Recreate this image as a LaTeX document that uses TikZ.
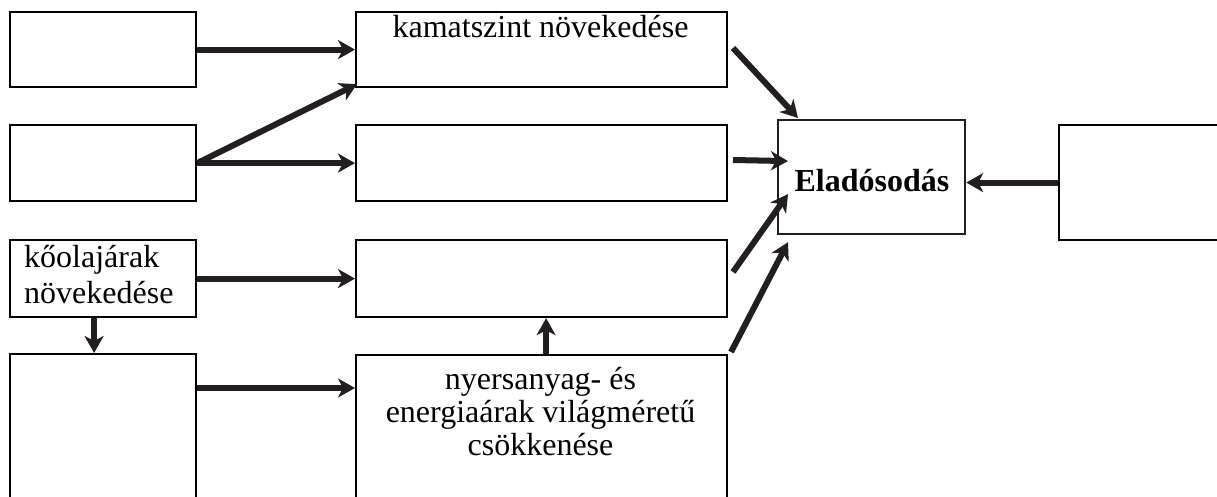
\documentclass[tikz,border=0pt]{standalone}
\usepackage{fontspec}
\setmainfont{Liberation Serif}
\usetikzlibrary{arrows.meta}
\definecolor{ink}{HTML}{231F20}
\begin{document}
\begin{tikzpicture}[x=1pt,y=-1pt,
  box/.style={draw=black,line width=2.2pt,inner sep=0pt,anchor=north west},
  arr/.style={draw=ink,line width=6pt,-{Stealth[length=17pt,width=19pt,inset=5pt]}},
  txt/.style={inner sep=0pt,font=\fontsize{32}{35}\selectfont}]
\useasboundingbox (0,0) rectangle (1217,497);
\clip (0,0) rectangle (1217,497);
% left column
\node[box,minimum width=186pt,minimum height=75pt] (L1) at (9,11) {};
\node[box,minimum width=186pt,minimum height=76pt] (L2) at (9,124) {};
\node[box,minimum width=186pt,minimum height=77pt] (L3) at (9,239) {};
\node[box,minimum width=186pt,minimum height=170pt] (L4) at (9,353) {};
% middle column
\node[box,minimum width=371pt,minimum height=75pt] (M1) at (355,11) {};
\node[box,minimum width=371pt,minimum height=76pt] (M2) at (355,124) {};
\node[box,minimum width=371pt,minimum height=77pt] (M3) at (355,239) {};
\node[box,minimum width=371pt,minimum height=170pt] (M4) at (355,354) {};
% target and right box
\node[box,draw=ink,minimum width=187pt,minimum height=114pt] (E) at (777,119) {};
\node[box,minimum width=200pt,minimum height=115pt] (R) at (1058,124) {};
% texts
\node[txt,anchor=base] (tM1) at (540.5,38) {kamatszint növekedése};
\node[txt,anchor=base,font=\fontsize{32}{35}\selectfont\bfseries] (tE) at (872,192) {Eladósodás};
\node[txt,anchor=base west] (tL3a) at (24,267) {kőolajárak};
\node[txt,anchor=base west] (tL3b) at (24,303) {növekedése};
\node[txt,anchor=base] (tM4a) at (540.5,389) {nyersanyag- és};
\node[txt,anchor=base] (tM4b) at (540.5,422) {energiaárak világméretű};
\node[txt,anchor=base] (tM4c) at (540.5,455) {csökkenése};
% free ends of the arrows into E
\coordinate (c1) at (733,48);
\coordinate (c2) at (733,160);
\coordinate (c3) at (733,272);
\coordinate (c4) at (731,352);
% arrows
\draw[arr] (L1.east) -- (M1.west);
\draw[arr] (L2.east) -- ([xshift=2pt,yshift=4pt]M1.south west);
\draw[arr] (L2.east) -- (M2.west);
\draw[arr] (L3.east) -- (M3.west);
\draw[arr] ([xshift=-9pt]L3.south) -- ([xshift=-9pt]L4.north);
\draw[arr] ([yshift=-35pt]L4.north east) -- ([yshift=-34pt]M4.north west);
\draw[arr] ([xshift=4.5pt]M4.north) -- ([xshift=4.5pt]M3.south);
\draw[arr] (c1) -- ([xshift=21pt,yshift=1pt]E.north west);
\draw[arr] (c2) -- ([xshift=11pt,yshift=16pt]E.west);
\draw[arr] (c3) -- ([xshift=11pt,yshift=-17pt]E.west);
\draw[arr] (c4) -- ([xshift=11pt,yshift=-7pt]E.south west);
\draw[arr] (R.west) -- (R.west -| E.east);
\end{tikzpicture}
\end{document}
